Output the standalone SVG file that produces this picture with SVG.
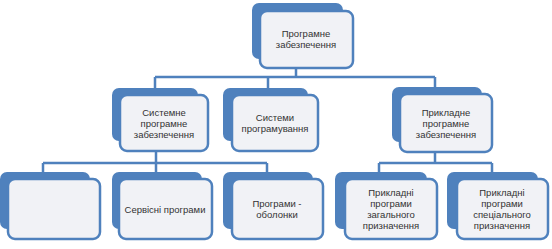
<svg xmlns="http://www.w3.org/2000/svg" width="552" height="249" viewBox="0 0 552 249">
<style>
.back{fill:#4f81bd}
.front{fill:#f1f2f6;stroke:#4f81bd;stroke-width:2.5}
.conn{stroke:#4f81bd;stroke-width:2.5;fill:none}
text{font-family:"Liberation Sans",Arial,sans-serif;font-size:9.5px;fill:#333;text-anchor:middle}
</style>
<rect width="552" height="249" fill="#ffffff"/>
<g id="connectors">
<path class="conn" d="M296 68 V77 M155 77 H435 M155 77 V88 M268 77 V88 M435 77 V87"/>
<path class="conn" d="M156 151 V163 M43 163 H267 M43 163 V172 M156 163 V172 M267 163 V172"/>
<path class="conn" d="M435 152 V163 M379 163 H492 M379 163 V172 M492 163 V172"/>
</g>
<g id="n0">
<rect class="back" x="252" y="3" width="91" height="56" rx="7"/>
<rect class="front" x="260" y="11" width="93" height="57" rx="7"/>
<text x="306" y="37">Програмне</text>
<text x="306" y="48">забезпечення</text>
</g>
<g id="n1">
<rect class="back" x="112" y="88" width="86" height="53" rx="7"/>
<rect class="front" x="120" y="95" width="88" height="56" rx="7"/>
<text x="164" y="116">Системне</text>
<text x="164" y="127">програмне</text>
<text x="164" y="138">забезпечення</text>
</g>
<g id="n2">
<rect class="back" x="223" y="88" width="85" height="53" rx="7"/>
<rect class="front" x="232" y="95" width="86" height="56" rx="7"/>
<text x="275" y="121">Системи</text>
<text x="275" y="132">програмування</text>
</g>
<g id="n3">
<rect class="back" x="392" y="87" width="90" height="55" rx="7"/>
<rect class="front" x="400" y="94" width="92" height="58" rx="7"/>
<text x="446" y="116">Прикладне</text>
<text x="446" y="127">програмне</text>
<text x="446" y="138">забезпечення</text>
</g>
<g id="n4">
<rect class="back" x="0" y="172" width="90" height="57" rx="7"/>
<rect class="front" x="8" y="179" width="92" height="60" rx="7"/>
</g>
<g id="n5">
<rect class="back" x="112" y="172" width="90" height="57" rx="7"/>
<rect class="front" x="119" y="179" width="93" height="60" rx="7"/>
<text x="165" y="213">Сервісні програми</text>
</g>
<g id="n6">
<rect class="back" x="223" y="172" width="90" height="57" rx="7"/>
<rect class="front" x="232" y="179" width="91" height="60" rx="7"/>
<text x="277" y="207">Програми -</text>
<text x="277" y="218">оболонки</text>
</g>
<g id="n7">
<rect class="back" x="335" y="172" width="92" height="57" rx="7"/>
<rect class="front" x="345" y="179" width="92" height="60" rx="7"/>
<text x="391" y="196">Прикладні</text>
<text x="391" y="207">програми</text>
<text x="391" y="218">загального</text>
<text x="391" y="229">призначення</text>
</g>
<g id="n8">
<rect class="back" x="447" y="172" width="91" height="57" rx="7"/>
<rect class="front" x="457" y="179" width="91" height="60" rx="7"/>
<text x="502" y="196">Прикладні</text>
<text x="502" y="207">програми</text>
<text x="502" y="218">спеціального</text>
<text x="502" y="229">призначення</text>
</g>
</svg>
